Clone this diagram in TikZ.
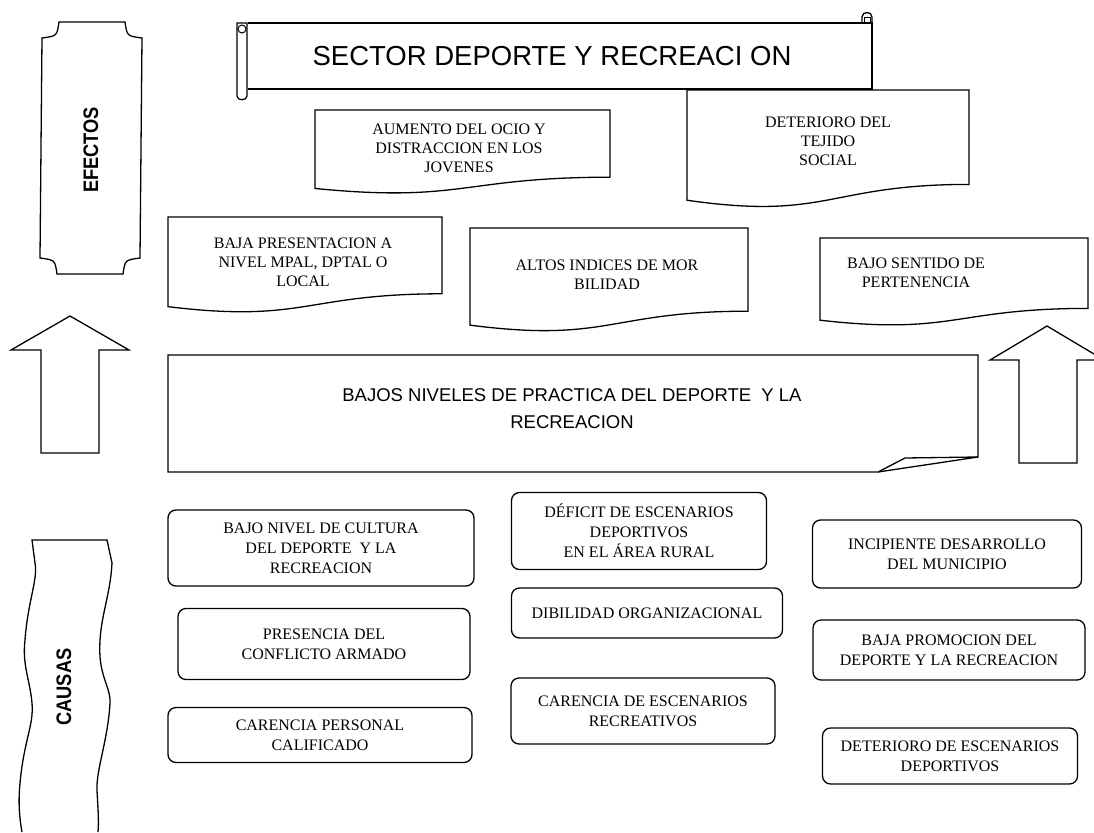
\documentclass[tikz,border=0pt]{standalone}
\usepackage{fontspec}
\setmainfont{Liberation Serif}
\newfontfamily\arialfont{Liberation Sans}
\usepackage{graphicx}
\usetikzlibrary{positioning}

% document shape with wavy bottom: x1, top, x2, height
\newcommand{\docshape}[4]{%
  \draw[shapeline] (#1,#2) -- (#3,#2) -- (#3,{#2+0.8*#4})
    .. controls ({(#1+#3)/2},{#2+0.8*#4}) and ({(#1+#3)/2},{#2+1.107*#4}) .. (#1,{#2+0.934*#4}) -- cycle;}

\tikzset{
  shapeline/.style={line width=1.3pt, line join=miter},
  efecto/.style={align=center, font=\fontsize{16}{19}\selectfont},
  causa/.style={draw, line width=1.3pt, rounded corners=8pt, align=center,
    font=\fontsize{16}{20}\selectfont},
  sidelabel/.style={rotate=90, font=\arialfont\bfseries\fontsize{21}{24}\selectfont},
}

\begin{document}
\begin{tikzpicture}[x=1pt, y=-1pt]
  \useasboundingbox (0,0) rectangle (1094,832);

  % title scroll
  \draw[shapeline] (248,23) -- (872,23) -- (872,89) -- (248,89);
  \draw[shapeline] (237,23) -- (237,96) .. controls (237,101) and (247,101) .. (247,96) -- (247,23) -- cycle;
  \draw[line width=1pt] (242,29) circle[radius=4pt];
  \draw[shapeline] (862,23) -- (862,17) .. controls (862,11) and (872,11) .. (872,17) -- (872,23);
  \draw[line width=1pt] (864,23) -- (864,18) -- (870,18) -- (870,23);
  \node[font=\arialfont\fontsize{27.5}{30}\selectfont] (titulo) at (552,56) {SECTOR DEPORTE Y RECREACI ON};

  % efectos plaque
  \draw[shapeline] (59,22) -- (125,22) .. controls (127,36) .. (142,38) -- (140,258)
    .. controls (125,260) .. (123,274) -- (57,274) .. controls (55,260) .. (40,258)
    -- (42,38) .. controls (57,36) .. cycle;
  \node[sidelabel] (efectos) at (91,150) {\scalebox{0.87}[1]{EFECTOS}};

  % causas banner
  \draw[shapeline] (22,832) .. controls (18,810) and (19,795) .. (20,783)
    .. controls (24,740) and (34,725) .. (32,703)
    .. controls (30,680) and (22,665) .. (25,640)
    .. controls (28,600) and (38,580) .. (35,563)
    -- (32,540) -- (107,540) -- (112,563)
    .. controls (110,600) and (98,620) .. (100,657)
    .. controls (102,680) and (111,690) .. (110,703)
    .. controls (108,740) and (96,770) .. (97,790)
    .. controls (98,810) and (99,820) .. (98,832);
  \node[sidelabel] (causas) at (64,687) {\scalebox{0.87}[1]{CAUSAS}};

  % efectos
  \docshape{315}{110}{610}{84}
  \node[efecto] (ocio) at (459,148) {AUMENTO DEL OCIO Y\\ DISTRACCION EN LOS\\JOVENES};
  \docshape{687}{90}{969}{118}
  \node[efecto] (tejido) at (828,141) {DETERIORO DEL\\TEJIDO\\SOCIAL};
  \docshape{168}{217}{442}{96}
  \node[efecto] (presentacion) at (303,262) {BAJA PRESENTACION A\\NIVEL MPAL, DPTAL O\\LOCAL};
  \docshape{470}{228}{748}{104}
  \node[efecto] (morbilidad) at (607,275) {ALTOS INDICES DE MOR\\BILIDAD};
  \docshape{820}{238}{1088}{88}
  \node[efecto] (pertenencia) at (916,273) {BAJO SENTIDO DE\\PERTENENCIA};

  % arrows
  \draw[shapeline] (70,316) -- (129,350) -- (99,350) -- (99,453) -- (41,453) -- (41,350) -- (11,350) -- cycle;
  \draw[shapeline] (1047,326) -- (1104,360) -- (1077,360) -- (1077,463) -- (1019,463) -- (1019,360) -- (990,360) -- cycle;

  % central problem
  \draw[shapeline] (168,355) -- (978,355) -- (978,457) -- (878,472) -- (168,472) -- cycle;
  \draw[shapeline] (878,472) -- (905,458) -- (978,457);
  \node[align=center, font=\arialfont\fontsize{18.5}{27}\selectfont] (problema) at (572,409)
    {BAJOS NIVELES DE PRACTICA DEL DEPORTE~ Y LA\\RECREACION};

  % causas
  \node[causa, minimum width=306pt, minimum height=76pt] (cultura) at (321,548) {BAJO NIVEL DE CULTURA\\DEL DEPORTE~ Y LA\\RECREACION};
  \node[causa, minimum width=292pt, minimum height=71pt] (conflicto) at (324,644) {PRESENCIA DEL\\CONFLICTO ARMADO};
  \node[causa, minimum width=304pt, minimum height=55pt] (personal) at (320,735) {CARENCIA PERSONAL\\CALIFICADO};
  \node[causa, minimum width=255pt, minimum height=77pt] (deficit) at (639,531) {DÉFICIT DE ESCENARIOS\\DEPORTIVOS\\EN EL ÁREA RURAL};
  \node[causa, minimum width=271pt, minimum height=50pt] (dibilidad) at (647,613) {DIBILIDAD ORGANIZACIONAL};
  \node[causa, minimum width=264pt, minimum height=66pt] (recreativos) at (643,711) {CARENCIA DE ESCENARIOS\\RECREATIVOS};
  \node[causa, minimum width=269pt, minimum height=68pt] (incipiente) at (947,554) {INCIPIENTE DESARROLLO\\DEL MUNICIPIO};
  \node[causa, minimum width=272pt, minimum height=60pt] (promocion) at (949,650) {BAJA PROMOCION DEL\\DEPORTE Y LA RECREACION};
  \node[causa, minimum width=255pt, minimum height=56pt] (escenarios) at (950,756) {DETERIORO DE ESCENARIOS\\DEPORTIVOS};
\end{tikzpicture}
\end{document}
